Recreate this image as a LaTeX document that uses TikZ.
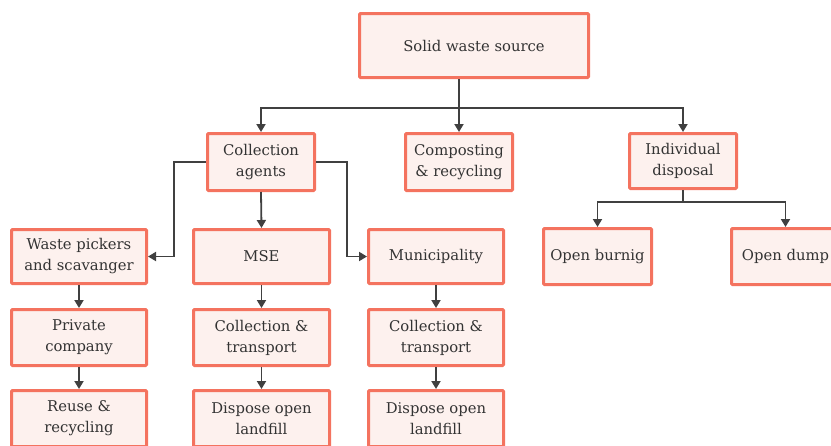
\documentclass[tikz,border=0pt]{standalone}
\usepackage{fontspec}
\setmainfont{DejaVu Serif}
\usetikzlibrary{arrows.meta}
\definecolor{boxline}{HTML}{F4735F}
\definecolor{boxfill}{HTML}{FDF1EE}
\definecolor{linkcol}{HTML}{404040}
\definecolor{txt}{HTML}{333333}
\begin{document}
\begin{tikzpicture}[x=1pt,y=-1pt,
  wbox/.style={draw=boxline, fill=boxfill, line width=3pt, rounded corners=1pt,
    align=center, inner sep=0pt, text=txt,
    font=\fontsize{14.8}{21}\selectfont},
  link/.style={draw=linkcol, line width=1.8pt, -{Triangle[length=8pt,width=9pt]}},
  plain/.style={draw=linkcol, line width=1.8pt}]
\useasboundingbox (0,0) rectangle (831,445);
\clip (0,0) rectangle (831,445);
% top
\node[wbox, minimum width=229pt, minimum height=64pt] (src) at (474,45.5) {Solid waste source};
% level 2
\node[wbox, minimum width=107pt, minimum height=57pt] (ca) at (261,162) {Collection\\agents};
\node[wbox, minimum width=107pt, minimum height=57pt] (cr) at (459,162) {Composting\\\& recycling};
\node[wbox, minimum width=107pt, minimum height=55pt] (id) at (683,161) {Individual\\disposal};
% level 3
\node[wbox, minimum width=135pt, minimum height=54pt] (wp) at (79,256.5) {Waste pickers\\and scavanger};
\node[wbox, minimum width=136pt, minimum height=54pt] (mse) at (261.5,256.5) {MSE};
\node[wbox, minimum width=135pt, minimum height=54pt] (mun) at (436,256.5) {Municipality};
\node[wbox, minimum width=108pt, minimum height=56pt] (ob) at (597.5,256.5) {Open burnig};
\node[wbox, minimum width=108pt, minimum height=56pt] (od) at (785.5,256.5) {Open dump};
% level 4
\node[wbox, minimum width=135pt, minimum height=56pt] (pc) at (79,337.5) {Private\\company};
\node[wbox, minimum width=136pt, minimum height=56pt] (ct1) at (261.5,337.5) {Collection \&\\transport};
\node[wbox, minimum width=135pt, minimum height=56pt] (ct2) at (436,337.5) {Collection \&\\transport};
% level 5
\node[wbox, minimum width=135pt, minimum height=56pt] (rr) at (79,418.5) {Reuse \&\\recycling};
\node[wbox, minimum width=136pt, minimum height=56pt] (dl1) at (261.5,418.5) {Dispose open\\landfill};
\node[wbox, minimum width=135pt, minimum height=56pt] (dl2) at (436,418.5) {Dispose open\\landfill};
% connectors
\coordinate (j1) at (459,108);
\draw[link] (src.south -| cr.north) -- (cr.north);
\draw[link] (j1) -| (ca.north);
\draw[link] (j1) -| (id.north);
\coordinate (lk) at (174,162);
\coordinate (rk) at (347,162);
\draw[link] (ca.west) -- (lk) |- (wp.east);
\draw[link] (ca.east) -- (rk) |- (mun.west);
\draw[link] (ca.south) -- (mse.north);
\coordinate (j2) at (683,202);
\draw[plain] (id.south) -- (j2);
\draw[link] (j2) -| (ob.north);
\draw[link] (j2) -| (od.north);
\draw[link] (wp.south) -- (pc.north);
\draw[link] (pc.south) -- (rr.north);
\draw[link] (mse.south) -- (ct1.north);
\draw[link] (ct1.south) -- (dl1.north);
\draw[link] (mun.south) -- (ct2.north);
\draw[link] (ct2.south) -- (dl2.north);
\end{tikzpicture}
\end{document}
